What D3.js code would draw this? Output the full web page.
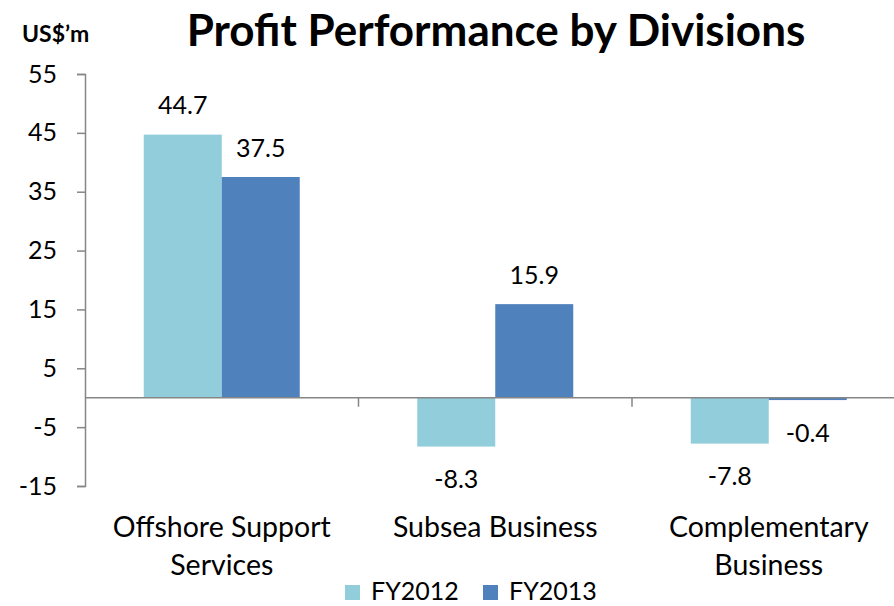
<!DOCTYPE html>
<html>
<head>
<meta charset="utf-8">
<script src="https://cdn.jsdelivr.net/npm/d3@7"></script>
<style>
  body { margin: 0; background: #fff; }
  svg { display: block; font-family: Lato, 'Open Sans', sans-serif; }
</style>
</head>
<body>
<script>
(function () {
  'use strict'

  // Chart data
  var categories = [['Offshore Support', 'Services'], ['Subsea Business'], ['Complementary', 'Business']]
  var seriesNames = ['FY2012', 'FY2013']
  var fy2012 = [44.7, -8.3, -7.8]
  var fy2013 = [37.5, 15.9, -0.4]
  var yTicks = [-15, -5, 5, 15, 25, 35, 45, 55]
  var colors = ['#92CDDC', '#4F81BD']

  var w = 894
  var h = 606

  var svg = d3.select('body').append('svg')
    .attr('width', w)
    .attr('height', h)

  // Scales
  var y = d3.scaleLinear().domain([-15, 55]).range([486, 74])
  var x0 = d3.scaleBand().domain(d3.range(categories.length))
    .range([85, 85 + 273.5 * 3]).paddingInner(0).paddingOuter(0)
  var x1 = d3.scaleBand().domain(seriesNames)
    .range([58.75, 273.5 - 58.75])

  var grey = '#868686'

  // Title
  svg.append('text')
    .attr('x', 496).attr('y', 46)
    .attr('text-anchor', 'middle')
    .attr('font-weight', 'bold')
    .attr('font-size', 44)
    .text('Profit Performance by Divisions')

  svg.append('text')
    .attr('x', 22).attr('y', 42)
    .attr('font-weight', 'bold')
    .attr('font-size', 23)
    .text('US$\u2019m')

  // Bars
  var rows = categories.map(function (c, i) {
    return [fy2012[i], fy2013[i]]
  })

  var groups = svg.selectAll('g.cat')
    .data(rows)
    .enter().append('g')
      .attr('class', 'cat')
      .attr('transform', function (d, i) { return 'translate(' + x0(i) + ',0)' })

  groups.selectAll('rect')
    .data(function (d) { return d })
    .enter().append('rect')
      .attr('x', function (d, j) { return x1(seriesNames[j]) })
      .attr('width', x1.bandwidth())
      .attr('y', function (d) { return y(Math.max(0, d)) })
      .attr('height', function (d) { return Math.abs(y(d) - y(0)) })
      .attr('fill', function (d, j) { return colors[j] })

  groups.selectAll('text')
    .data(function (d) { return d })
    .enter().append('text')
      .attr('x', function (d, j) { return x1(seriesNames[j]) + x1.bandwidth() / 2 })
      .attr('y', function (d) { return d >= 0 ? y(d) - 29 : y(d) + 33 })
      .attr('dy', '0.35em')
      .attr('text-anchor', 'middle')
      .attr('font-size', 25)
      .text(function (d) { return d.toFixed(1) })

  // Y axis
  var yAxis = d3.axisLeft(y).tickValues(yTicks).tickSize(8).tickPadding(20)
    .tickFormat(function (d) { return String(d) })
  var gy = svg.append('g')
    .attr('transform', 'translate(85,0)')
    .call(yAxis)
  gy.select('.domain').attr('stroke', grey).attr('stroke-width', 1.5)
  gy.selectAll('.tick line').attr('stroke', grey).attr('stroke-width', 1.5)
  gy.selectAll('.tick text').attr('font-size', 25).attr('fill', '#000')
    .attr('font-family', 'Lato, sans-serif')

  // Zero line with category ticks
  svg.append('line')
    .attr('x1', 85).attr('x2', w)
    .attr('y1', y(0)).attr('y2', y(0))
    .attr('stroke', grey).attr('stroke-width', 1.5)

  svg.selectAll('line.ctick')
    .data(d3.range(1, categories.length + 1))
    .enter().append('line')
      .attr('class', 'ctick')
      .attr('x1', function (i) { return 85 + x0.step() * i })
      .attr('x2', function (i) { return 85 + x0.step() * i })
      .attr('y1', y(0)).attr('y2', y(0) + 9)
      .attr('stroke', grey).attr('stroke-width', 1.5)

  // Category labels
  var catLabels = svg.selectAll('text.cat')
    .data(categories)
    .enter().append('text')
      .attr('class', 'cat')
      .attr('text-anchor', 'middle')
      .attr('font-size', 28.5)
      .attr('transform', function (d, i) {
        return 'translate(' + (x0(i) + x0.bandwidth() / 2) + ',537)'
      })
  catLabels.selectAll('tspan')
    .data(function (d) { return d })
    .enter().append('tspan')
      .attr('x', 0)
      .attr('dy', function (d, i) { return i === 0 ? 0 : 37.5 })
      .text(function (d) { return d })

  // Legend
  var legend = svg.selectAll('g.legend')
    .data(seriesNames)
    .enter().append('g')
      .attr('class', 'legend')
      .attr('transform', function (d, i) { return 'translate(' + (345 + i * 138) + ',585)' })
  legend.append('rect')
    .attr('width', 15).attr('height', 15)
    .attr('fill', function (d, i) { return colors[i] })
  legend.append('text')
    .attr('x', 26).attr('y', 15)
    .attr('font-size', 25)
    .text(function (d) { return d })
}())
</script>
</body>
</html>
